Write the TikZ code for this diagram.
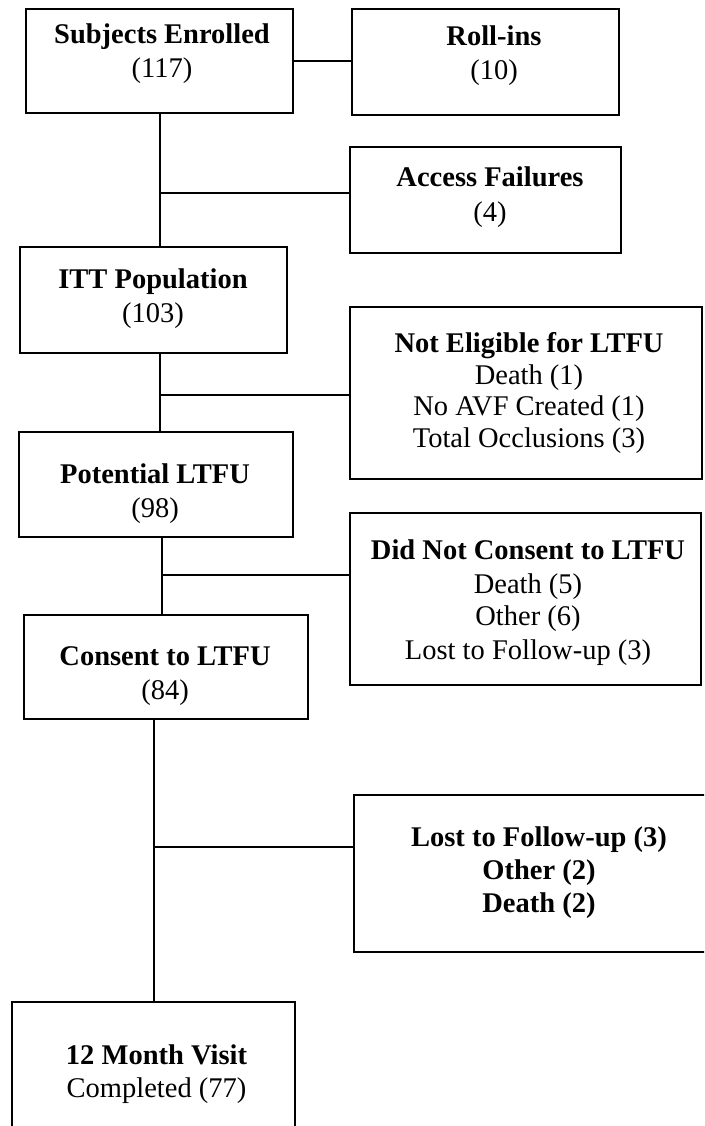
\documentclass[tikz,border=0pt]{standalone}
\usepackage{fontspec}
\setmainfont{Liberation Serif}
\begin{document}
\begin{tikzpicture}[x=1pt,y=-1pt,
  box/.style={draw=black, line width=1.5pt, rectangle, inner sep=0pt},
  tb/.style={anchor=base, inner sep=0pt, font=\fontsize{28.5}{34}\selectfont\bfseries},
  tr/.style={anchor=base, inner sep=0pt, font=\fontsize{28.5}{34}\selectfont},
  link/.style={draw=black, line width=1.5pt}]
\clip (0,0) rectangle (704,1126);
% boxes
\node[box, minimum width=267pt, minimum height=104pt] (se) at (159.5,61) {};
\node[box, minimum width=267pt, minimum height=106pt] (ri) at (485.5,62) {};
\node[box, minimum width=271pt, minimum height=106pt] (acc) at (485.5,200) {};
\node[box, minimum width=267pt, minimum height=106pt] (itt) at (153.5,300) {};
\node[box, minimum width=352pt, minimum height=172pt] (ne) at (526,393) {};
\node[box, minimum width=274pt, minimum height=105pt] (pot) at (156,484.5) {};
\node[box, minimum width=351pt, minimum height=172pt] (dnc) at (525.5,599) {};
\node[box, minimum width=284pt, minimum height=104pt] (con) at (166,667) {};
\node[box, minimum width=386pt, minimum height=157pt] (lost) at (547,873.5) {};
\node[box, minimum width=283pt, minimum height=158pt] (mon) at (153.5,1081) {};
% texts
\node[tb] (se1) at (162,43.3) {Subjects Enrolled};
\node[tr] (se2) at (162,77.3) {(117)};
\node[tb] (ri1) at (494,45.7) {Roll-ins};
\node[tr] (ri2) at (494,80) {(10)};
\node[tb] (acc1) at (490,186) {Access Failures};
\node[tr] (acc2) at (490,221) {(4)};
\node[tb] (itt1) at (153,288.3) {ITT Population};
\node[tr] (itt2) at (153,322.7) {(103)};
\node[tb] (ne1) at (529,352.7) {Not Eligible for LTFU};
\node[tr] (ne2) at (529,384) {Death (1)};
\node[tr] (ne3) at (529,415.5) {No AVF Created (1)};
\node[tr] (ne4) at (529,447) {Total Occlusions (3)};
\node[tb] (pot1) at (155,483) {Potential LTFU};
\node[tr] (pot2) at (155,517) {(98)};
\node[tb] (dnc1) at (528,559) {Did Not Consent to LTFU};
\node[tr] (dnc2) at (528,593) {Death (5)};
\node[tr] (dnc3) at (528,625.5) {Other (6)};
\node[tr] (dnc4) at (528,659) {Lost to Follow-up (3)};
\node[tb] (con1) at (165,665) {Consent to LTFU};
\node[tr] (con2) at (165,699.5) {(84)};
\node[tb] (lost1) at (539,846) {Lost to Follow-up (3)};
\node[tb] (lost2) at (539,879) {Other (2)};
\node[tb] (lost3) at (539,912) {Death (2)};
\node[tb] (mon1) at (156.5,1064) {12 Month Visit};
\node[tr] (mon2) at (156.5,1097) {Completed (77)};
% junctions
\coordinate (v1) at (160,113);
\coordinate (j1) at (160,193);
\coordinate (v2) at (160,353);
\coordinate (j2) at (160,395);
\coordinate (v3) at (162,537);
\coordinate (j3) at (162,575);
\coordinate (v4) at (154,719);
\coordinate (j4) at (154,847);
% connectors
\draw[link] (se.east) -- (se.east -| ri.west);
\draw[link] (v1) -- (v1 |- itt.north);
\draw[link] (j1) -- (j1 -| acc.west);
\draw[link] (v2) -- (v2 |- pot.north);
\draw[link] (j2) -- (j2 -| ne.west);
\draw[link] (v3) -- (v3 |- con.north);
\draw[link] (j3) -- (j3 -| dnc.west);
\draw[link] (v4) -- (v4 |- mon.north);
\draw[link] (j4) -- (j4 -| lost.west);
\end{tikzpicture}
\end{document}
